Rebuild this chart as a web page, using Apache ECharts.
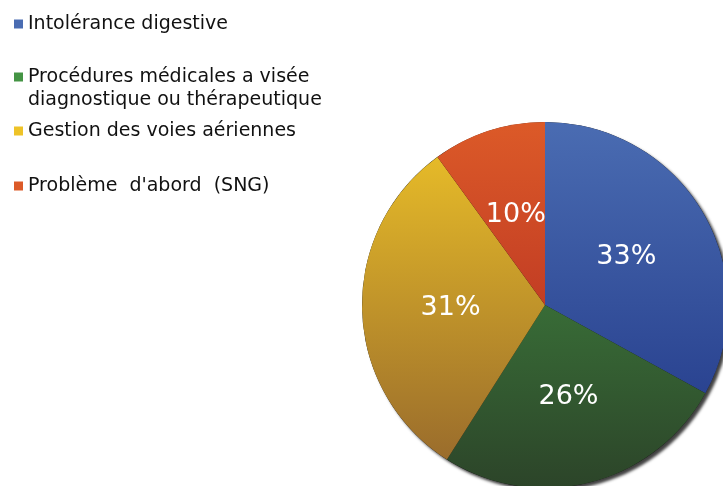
<!DOCTYPE html>
<html>
<head>
<meta charset="utf-8">
<script src="https://cdn.jsdelivr.net/npm/echarts@6/dist/echarts.min.js"></script>
<style>html,body{margin:0;padding:0;background:#fff}#c{width:723px;height:486px}</style>
</head>
<body>
<div id="c"></div>
<script>
const categories = ["Intolérance digestive", "Procédures médicales a visée\ndiagnostique ou thérapeutique", "Gestion des voies aériennes", "Problème  d'abord  (SNG)"];
const values = [33, 26, 31, 10];
const topColors = ["#4a6cb2", "#449444", "#eec328", "#dc5a28"];
const bottomColors = ["#1f3585", "#2c4429", "#93652c", "#a82020"];

const CX = 545, CY = 305, R = 183;
const FONT = '"DejaVu Sans", "Liberation Sans", Arial, sans-serif';
const chart = echarts.init(document.getElementById('c'), null, {renderer: 'canvas'});

const pieData = categories.map((name, i) => ({
  name: name,
  value: values[i],
  itemStyle: {
    color: new echarts.graphic.LinearGradient(0, CY - R, 0, CY + R, [
      {offset: 0, color: topColors[i]},
      {offset: 1, color: bottomColors[i]}
    ], true)
  }
}));

const legendTops = [14, 67, 121, 176];
const legends = categories.map((name, i) => ({
  data: [name],
  left: 14,
  top: legendTops[i],
  padding: 0,
  orient: 'vertical',
  icon: 'rect',
  itemWidth: 9,
  itemHeight: 9,
  selectedMode: false,
  formatter: n => n.split('\n')[0],
  textStyle: {fontFamily: FONT, fontSize: 19, lineHeight: 20, color: '#111'}
}));

chart.setOption({
  animation: false,
  backgroundColor: '#fff',
  legend: legends,
  graphic: [{
    type: 'text',
    left: 28,
    top: 91,
    style: {text: categories[1].split('\n')[1], font: '19px ' + FONT, fill: '#111'}
  }],
  series: [
    {
      type: 'pie',
      silent: true,
      center: [CX, CY],
      radius: R,
      z: 1,
      label: {show: false},
      labelLine: {show: false},
      data: [{name: '_shadow', value: 1, itemStyle: {color: '#111', shadowColor: 'rgba(0,0,0,0.75)', shadowBlur: 3, shadowOffsetX: 3, shadowOffsetY: 3}}]
    },
    {
      type: 'pie',
      center: [CX, CY],
      radius: R,
      z: 2,
      startAngle: 90,
      clockwise: true,
      avoidLabelOverlap: false,
      itemStyle: {borderWidth: 0},
      label: {
        show: true,
        position: 'inside',
        formatter: '{d}%',
        color: '#fff',
        fontSize: 27,
        fontFamily: FONT
      },
      labelLine: {show: false},
      emphasis: {disabled: true},
      data: pieData
    }
  ]
});
</script>
</body>
</html>
